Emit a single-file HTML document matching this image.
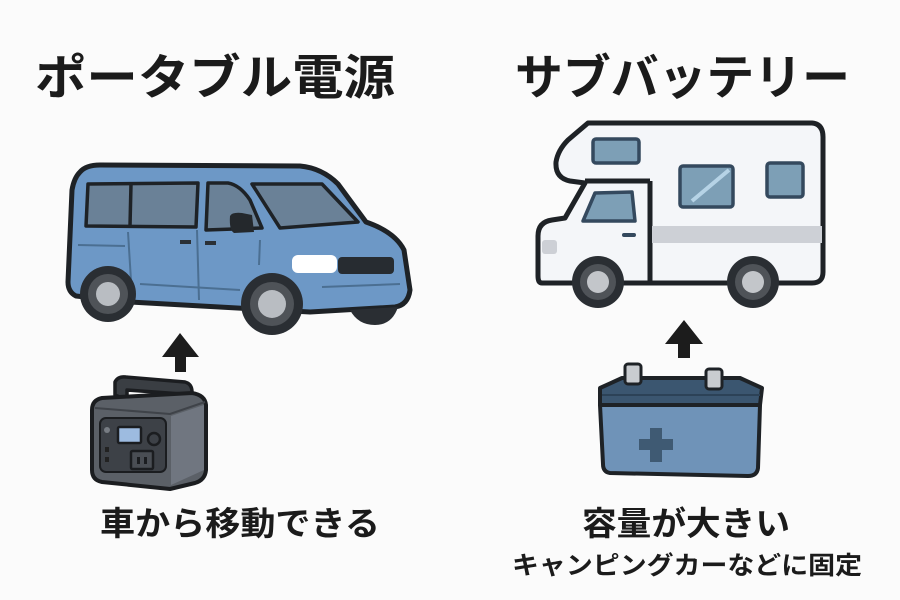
<!DOCTYPE html>
<html><head><meta charset="utf-8"><style>
html,body{margin:0;padding:0;background:#fbfbfb;}
svg{display:block}
text{font-family:"Liberation Sans","Noto Sans CJK JP",sans-serif;font-weight:bold;fill:#1b1b1b}
</style></head><body>
<svg width="900" height="600" viewBox="0 0 900 600" xmlns="http://www.w3.org/2000/svg">
<rect width="900" height="600" fill="#fbfbfb"/>
<text x="35" y="94" font-size="48" textLength="360" lengthAdjust="spacingAndGlyphs">ポータブル電源</text>
<text x="515" y="94" font-size="48" textLength="335" lengthAdjust="spacingAndGlyphs">サブバッテリー</text>

<!-- VAN -->
<g stroke="#1e2226" stroke-width="5" stroke-linejoin="round">
<path d="M80,172 Q86,165 100,165 L300,166 Q322,168 338,184 L366,222 Q395,232 404,250 L410,290 Q408,305 395,307 L310,312 L130,302 L76,296 Q68,292 68,282 L72,190 Q74,178 80,172 Z" fill="#6d98c6"/>
</g>
<g stroke="#1e2226" stroke-width="3.5" stroke-linejoin="round" fill="#6a8197">
<path d="M88,184 L198,183 L196,227 L86,226 Z"/>
<line x1="131" y1="184" x2="130" y2="226"/>
<path d="M208,183 L228,183 Q240,185 250,200 L262,228 L206,230 Z"/>
<path d="M252,184 L322,184 L358,222 L280,228 Z"/>
</g>
<path d="M230,216 Q232,212 242,213 L252,215 L254,232 L234,233 Q229,230 230,216 Z" fill="#24282c"/>
<rect x="292" y="255" width="45" height="18" rx="6" fill="#fff"/>
<rect x="338" y="257" width="56" height="17" rx="4" fill="#272c31"/>
<g stroke="#4b6f92" stroke-width="2" fill="none">
<line x1="128" y1="232" x2="132" y2="297"/><line x1="197" y1="230" x2="199" y2="300"/>
<line x1="260" y1="240" x2="259" y2="265"/><line x1="78" y1="245" x2="125" y2="246"/>
<line x1="140" y1="284" x2="240" y2="290"/><line x1="322" y1="287" x2="400" y2="284"/>
</g>
<rect x="180" y="240" width="11" height="4" fill="#2a3036"/><rect x="205" y="241" width="11" height="4" fill="#2a3036"/>
<circle cx="108" cy="294" r="28" fill="#2a2e33"/><circle cx="108" cy="294" r="20" fill="#4f5358"/><circle cx="108" cy="294" r="12" fill="#b9bdc2"/>
<circle cx="272" cy="304" r="31" fill="#2a2e33"/><circle cx="272" cy="304" r="22" fill="#4f5358"/><circle cx="272" cy="304" r="14" fill="#b9bdc2"/>
<path d="M350,310 Q358,325 375,325 Q392,325 398,307 Z" fill="#2a2e33"/>

<!-- left arrow -->
<path d="M180,333 L199,357 L186,357 L186,372 L175,372 L175,357 L162,357 Z" fill="#1c1c1c"/>

<!-- POWER STATION -->
<path d="M115,395 L115,382 Q118,376 126,377 L185,382 Q192,384 192,392 L192,405 L182,405 L182,394 L127,390 L127,400 Z" fill="#3a3e43" stroke="#1b1d20" stroke-width="3.5" stroke-linejoin="round"/>
<path d="M92,410 Q92,400 102,398 L192,393 Q205,395 206,405 L206,470 Q205,480 195,483 L170,489 L102,482 Q92,480 92,470 Z" fill="#5b6067" stroke="#1b1d20" stroke-width="4" stroke-linejoin="round"/>
<path d="M95,408 L170,414 L205,402" stroke="#3f4349" stroke-width="2" fill="none"/>
<path d="M171,416 L204,405 L204,470 L171,485 Z" fill="#707680"/>
<rect x="100" y="418" width="66" height="54" rx="6" fill="#3d4147" stroke="#1b1d20" stroke-width="2"/>
<rect x="118" y="427" width="23" height="16" rx="1.5" fill="#9dbbe0" stroke="#1b1d20" stroke-width="2.5"/>
<circle cx="107" cy="430" r="3" fill="#777c83"/>
<circle cx="154" cy="439" r="6" fill="#3d4147" stroke="#1b1d20" stroke-width="2.5"/>
<rect x="105" y="447" width="4" height="5" fill="#222"/><rect x="105" y="457" width="4" height="5" fill="#222"/>
<rect x="131" y="451" width="22" height="18" rx="1.5" fill="#4a4e54" stroke="#1b1d20" stroke-width="2.5"/>
<rect x="137" y="457" width="3" height="7" fill="#1b1d20"/><rect x="144" y="457" width="3" height="7" fill="#1b1d20"/>

<!-- CAMPER -->
<g stroke="#1e2226" stroke-width="5" stroke-linejoin="round">
<path d="M588,123 L812,123 Q823,124 823,137 L823,272 Q823,283 812,283 L542,283 Q538,283 538,276 L538,236 Q538,222 552,220 L565,218 L585,183 L570,181 Q555,178 556,162 Q558,150 568,140 Z" fill="#f4f6f9"/>
<line x1="650" y1="181" x2="650" y2="283"/>
<line x1="585" y1="181" x2="650" y2="181"/>
</g>
<rect x="652" y="226" width="170" height="17" fill="#cdd0d6"/>
<rect x="542" y="240" width="15" height="14" rx="3" fill="#cdd0d6"/>
<g stroke="#34495e" stroke-width="3.5" fill="#7d9fb6" stroke-linejoin="round">
<rect x="593" y="139" width="46" height="24" rx="3"/>
<rect x="680" y="166" width="53" height="41" rx="3"/>
<rect x="767" y="163" width="36" height="34" rx="3"/>
<path d="M595,193 L632,192 L635,221 L583,221 Z"/>
</g>
<line x1="692" y1="201" x2="729" y2="170" stroke="#b6d3e6" stroke-width="4"/>
<rect x="622" y="233" width="14" height="4" rx="2" fill="#34495e"/>
<circle cx="598" cy="282" r="26" fill="#2a2e33"/><circle cx="598" cy="282" r="18" fill="#4f5358"/><circle cx="598" cy="282" r="11" fill="#c3c6ca"/>
<circle cx="753" cy="282" r="26" fill="#2a2e33"/><circle cx="753" cy="282" r="18" fill="#4f5358"/><circle cx="753" cy="282" r="11" fill="#c3c6ca"/>

<!-- right arrow -->
<path d="M684,320 L703,344 L690,344 L690,358 L678,358 L678,344 L665,344 Z" fill="#1c1c1c"/>

<!-- BATTERY -->
<path d="M600,405 L760,405 L758,468 Q757,476 748,476 L610,473 Q603,472 603,464 Z" fill="#6f93b8" stroke="#1e2226" stroke-width="4" stroke-linejoin="round"/>
<path d="M600,388 L622,378 L740,378 L762,388 L760,405 L600,405 Z" fill="#3b5670" stroke="#1e2226" stroke-width="4" stroke-linejoin="round"/>
<line x1="602" y1="395" x2="760" y2="395" stroke="#2c4257" stroke-width="2"/>
<rect x="625" y="364" width="16" height="20" rx="3" fill="#c9ccd0" stroke="#1e2226" stroke-width="3"/>
<rect x="706" y="369" width="16" height="20" rx="3" fill="#c9ccd0" stroke="#1e2226" stroke-width="3"/>
<path d="M650,428 h12 v11 h11 v11 h-11 v12 h-12 v-12 h-11 v-11 h11 Z" fill="#3f5a73"/>

<text x="100" y="535" font-size="33" textLength="280" lengthAdjust="spacingAndGlyphs">車から移動できる</text>
<text x="582" y="535" font-size="33" textLength="208" lengthAdjust="spacingAndGlyphs">容量が大きい</text>
<text x="512" y="574" font-size="25" textLength="350" lengthAdjust="spacingAndGlyphs">キャンピングカーなどに固定</text>
</svg>
</body></html>
